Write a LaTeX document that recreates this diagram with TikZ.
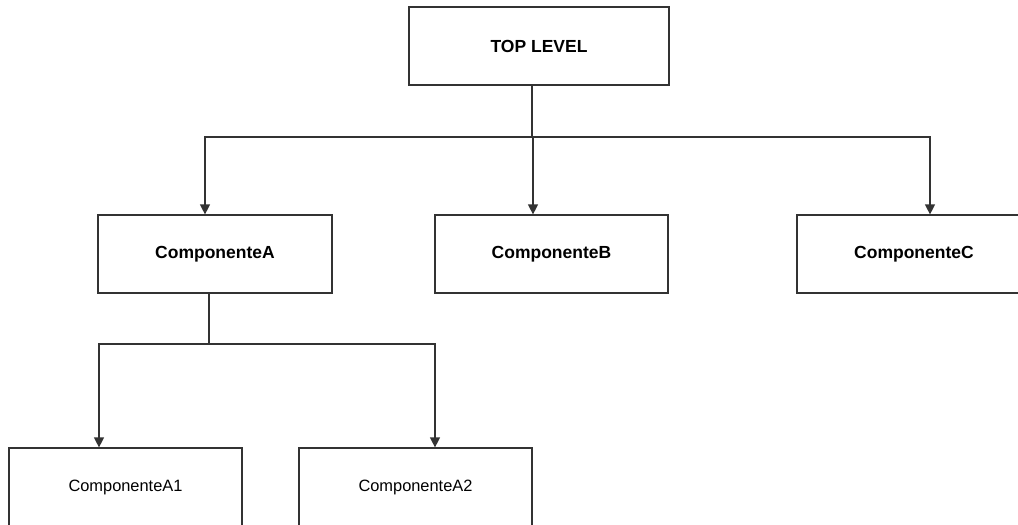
\documentclass[tikz,border=0pt]{standalone}
\usepackage{fontspec}
\setmainfont{Liberation Sans}
\usepackage{tikz}
\usetikzlibrary{calc,positioning,arrows.meta}
\definecolor{boxline}{HTML}{333333}
\tikzset{
  cbox/.style={rectangle, draw=boxline, fill=white, line width=1.2pt,
               minimum width=234pt, minimum height=78pt, inner sep=0pt,
               font=\fontsize{17.5}{20}\selectfont\bfseries},
  subbox/.style={cbox, minimum width=233pt, font=\fontsize{16.4}{19}\selectfont},
  cline/.style={line width=1.2pt, draw=boxline},
  carrow/.style={cline, -{Triangle[width=10pt,length=10pt]}}
}
\begin{document}
\begin{tikzpicture}[x=1pt, y=-1pt]
  \useasboundingbox (0,0) rectangle (1018,525);
  \node[cbox, minimum width=260pt] (top) at (539, 46) {TOP LEVEL};
  \node[cbox] (compA) at (215, 254) {ComponenteA};
  \node[cbox, minimum width=233pt] (compB) at (551.5, 254) {ComponenteB};
  \node[cbox] (compC) at (914, 254) {ComponenteC};
  \node[subbox] (compAone) at (125.5, 487) {ComponenteA1};
  \node[subbox] (compAtwo) at (415.5, 487) {ComponenteA2};
  % first level
  \coordinate (hubT) at (532, 137);
  \draw[cline] (top.south -| hubT) -- (hubT);
  \draw[carrow] (hubT) -| ([xshift=-10pt]compA.north);
  \draw[carrow] (hubT) -| ([xshift=-18.5pt]compB.north);
  \draw[carrow] (hubT) -| ([xshift=16pt]compC.north);
  % second level
  \coordinate (hubA) at (209, 344);
  \draw[cline] (compA.south -| hubA) -- (hubA);
  \draw[carrow] (hubA) -| ([xshift=-26.5pt]compAone.north);
  \draw[carrow] (hubA) -| ([xshift=19.5pt]compAtwo.north);
\end{tikzpicture}
\end{document}
